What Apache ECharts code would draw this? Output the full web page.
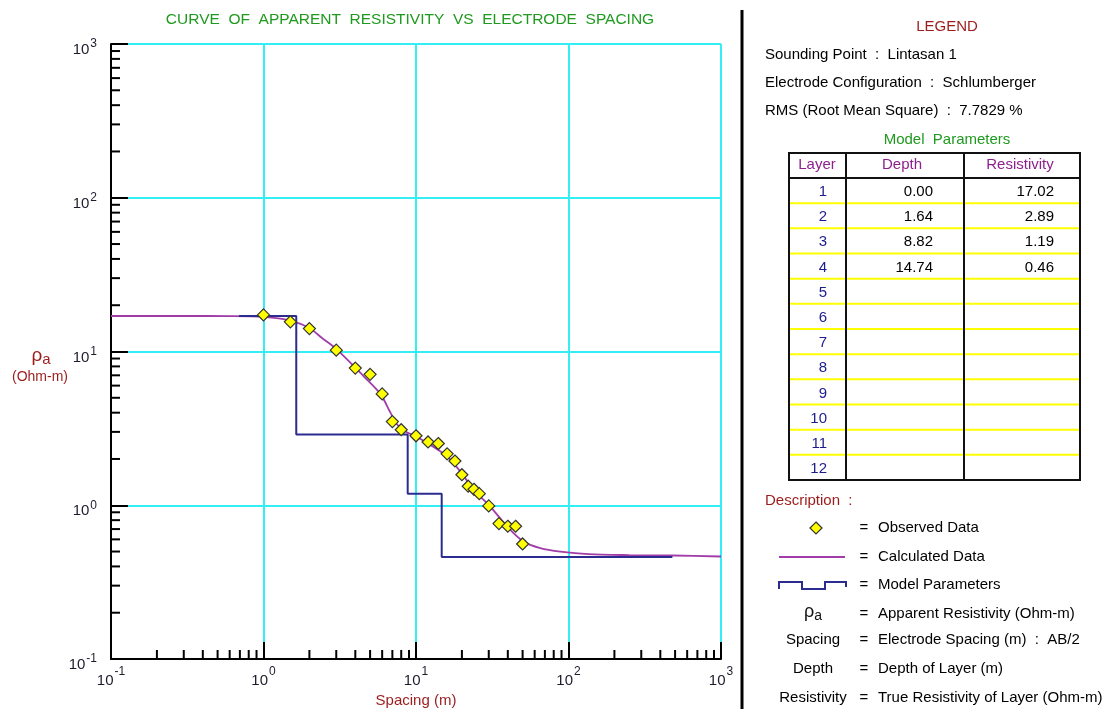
<!DOCTYPE html>
<html>
<head>
<meta charset="utf-8">
<script src="https://cdn.jsdelivr.net/npm/echarts@6/dist/echarts.min.js"></script>
<style>
  html, body { margin: 0; padding: 0; background: #ffffff; }
  #chart { width: 1108px; height: 709px; }
</style>
</head>
<body>
<div id="chart"></div>
<script>
// Observed sounding data: AB/2 spacing (m) and apparent resistivity (Ohm-m)
const obsSpacing = [1, 1.5, 2, 3, 4, 5, 6, 7, 8, 10, 12, 14, 16, 18, 20, 22, 24, 26, 30, 35, 40, 45, 50];
const obsRho = [17.3, 15.6, 14.1, 10.2, 7.8, 7.1, 5.3, 3.5, 3.1, 2.83, 2.58, 2.52, 2.16, 1.94, 1.58, 1.33, 1.27, 1.19, 0.99, 0.76, 0.73, 0.73, 0.56];

// Calculated (model response) curve
const calcSpacing = [0.1, 0.3, 0.6, 1, 1.5, 2, 2.43, 3, 4.54, 5.84, 6.8, 7.52, 8.52, 10, 12.4, 16, 19.5, 23.9, 30.7, 39.5, 50.8, 65.3, 88.4, 135, 250, 478, 1000];
const calcRho = [17.02, 17.02, 17.0, 16.8, 15.9, 14.2, 12.2, 10.4, 6.9, 5.3, 4.0, 3.35, 3.02, 2.80, 2.47, 2.08, 1.66, 1.26, 0.98, 0.73, 0.58, 0.527, 0.50, 0.481, 0.474, 0.471, 0.464];

// Layered model parameters
const layerNumbers = [1, 2, 3, 4, 5, 6, 7, 8, 9, 10, 11, 12];
const layerDepth = [0.00, 1.64, 8.82, 14.74];
const layerRes = [17.02, 2.89, 1.19, 0.46];
const modelSpan = [0.69, 480];

// Sounding info
const soundingPoint = 'Lintasan 1';
const configuration = 'Schlumberger';
const rmsError = '7.7829';

// Axis range (log10 decades)
const xRange = [0.1, 1000];
const yRange = [0.1, 1000];
const minorMultipliers = [2, 3, 4, 5, 6, 7, 8, 9];

const FONT = "'Liberation Sans', Arial, sans-serif";
const DARKRED = '#9c1c1c';
const GREEN = '#1f9a1f';
const HEADER = '#8e1f8e';
const NAVY = '#1c1c8c';
const CYAN = '#33eef5';
const CALC = '#a23ca8';
const MODEL = '#2c2c90';

// Step polyline of the model
const modelLine = [];
for (let i = 0; i < layerRes.length; i++) {
  const from = i === 0 ? modelSpan[0] : layerDepth[i];
  const to = i === layerRes.length - 1 ? modelSpan[1] : layerDepth[i + 1];
  modelLine.push([from, layerRes[i]], [to, layerRes[i]]);
}

// Minor log ticks for both axes: [x, y, axisFlag]
const minorTicks = [];
for (let e = Math.log10(xRange[0]); e < Math.log10(xRange[1]); e++) {
  minorMultipliers.forEach(m => minorTicks.push([m * Math.pow(10, e), yRange[0], 0]));
}
for (let e = Math.log10(yRange[0]); e < Math.log10(yRange[1]); e++) {
  minorMultipliers.forEach(m => minorTicks.push([xRange[0], m * Math.pow(10, e), 1]));
}

const powLabel = v => '{b|10}{s|' + Math.round(Math.log10(v)) + '}';

// Legend panel graphics
const graphics = [];
const txt = (text, x, y, opts) => graphics.push({
  type: 'text', silent: true,
  style: Object.assign({ text, x, y, fill: '#000', font: '15px ' + FONT, textAlign: 'left', textVerticalAlign: 'middle' }, opts || {})
});
const line = (x1, y1, x2, y2, stroke, lineWidth) => graphics.push({
  type: 'line', silent: true, shape: { x1, y1, x2, y2 }, style: { stroke, lineWidth }
});

// title
txt('CURVE  OF  APPARENT  RESISTIVITY  VS  ELECTRODE  SPACING', 410, 20, { fill: GREEN, textAlign: 'center', font: '15.5px ' + FONT });
// y axis name
graphics.push({
  type: 'text', silent: true,
  style: {
    text: '{r|ρ}{a|a}', x: 41, y: 356, textAlign: 'center', textVerticalAlign: 'middle',
    rich: { r: { fontSize: 19, fontFamily: FONT, fill: DARKRED }, a: { fontSize: 15, fontFamily: FONT, fill: DARKRED, padding: [8, 0, 0, 0] } }
  }
});
txt('(Ohm-m)', 40, 377, { fill: DARKRED, textAlign: 'center', font: '14px ' + FONT });

// divider
line(742, 10, 742, 709, '#000', 3);

// legend header block
txt('LEGEND', 947, 27, { fill: DARKRED, textAlign: 'center' });
txt('Sounding Point  :  ' + soundingPoint, 765, 55);
txt('Electrode Configuration  :  ' + configuration, 765, 83);
txt('RMS (Root Mean Square)  :  ' + rmsError + ' %', 765, 111);
txt('Model  Parameters', 947, 140, { fill: GREEN, textAlign: 'center' });

// model parameter table
const tX = [789, 846, 964, 1080];
const tTop = 153, tHead = 178;
const rowH = 25.17;
const tBottom = tHead + rowH * layerNumbers.length;
for (let i = 1; i < layerNumbers.length; i++) {
  line(tX[0], tHead + rowH * i, tX[3], tHead + rowH * i, '#ffff00', 2);
}
graphics.push({ type: 'rect', silent: true, shape: { x: tX[0], y: tTop, width: tX[3] - tX[0], height: tBottom - tTop }, style: { fill: null, stroke: '#111', lineWidth: 2 } });
line(tX[0], tHead, tX[3], tHead, '#111', 2);
line(tX[1], tTop, tX[1], tBottom, '#111', 2);
line(tX[2], tTop, tX[2], tBottom, '#111', 2);
txt('Layer', 817, 165, { fill: HEADER, textAlign: 'center' });
txt('Depth', 902, 165, { fill: HEADER, textAlign: 'center' });
txt('Resistivity', 1020, 165, { fill: HEADER, textAlign: 'center' });
layerNumbers.forEach((n, i) => {
  const cy = tHead + rowH * i + 14;
  txt(String(n), 827, cy, { fill: NAVY, textAlign: 'right' });
  if (i < layerDepth.length) {
    txt(layerDepth[i].toFixed(2), 933, cy, { textAlign: 'right' });
    txt(layerRes[i].toFixed(2), 1054, cy, { textAlign: 'right' });
  }
});

// description block
txt('Description  :', 765, 501, { fill: DARKRED });
graphics.push({
  type: 'polygon', silent: true,
  shape: { points: [[816, 522], [822, 528], [816, 534], [810, 528]] },
  style: { fill: '#ffff00', stroke: '#333', lineWidth: 1.2 }
});
line(779, 557, 845, 557, CALC, 2);
graphics.push({
  type: 'polyline', silent: true,
  shape: { points: [[779, 589], [779, 582], [802, 582], [802, 589], [825, 589], [825, 582], [846, 582], [846, 587]] },
  style: { stroke: MODEL, lineWidth: 2, fill: null }
});
graphics.push({
  type: 'text', silent: true,
  style: {
    text: '{r|ρ}{a|a}', x: 813, y: 612, textAlign: 'center', textVerticalAlign: 'middle',
    rich: { r: { fontSize: 18, fontFamily: FONT, fill: '#111' }, a: { fontSize: 14, fontFamily: FONT, fill: '#111', padding: [8, 0, 0, 0] } }
  }
});
txt('Spacing', 813, 640, { textAlign: 'center' });
txt('Depth', 813, 669, { textAlign: 'center' });
txt('Resistivity', 813, 698, { textAlign: 'center' });
const descRows = [
  [528, 'Observed Data'],
  [557, 'Calculated Data'],
  [585, 'Model Parameters'],
  [614, 'Apparent Resistivity (Ohm-m)'],
  [640, 'Electrode Spacing (m)  :  AB/2'],
  [669, 'Depth of Layer (m)'],
  [698, 'True Resistivity of Layer (Ohm-m)']
];
descRows.forEach(([y, t]) => {
  txt('=', 864, y, { textAlign: 'center' });
  txt(t, 878, y);
});

const axisLabelCommon = {
  formatter: powLabel,
  fontFamily: FONT,
  color: '#1c1c2c'
};

const option = {
  animation: false,
  backgroundColor: '#ffffff',
  grid: { left: 111, top: 44, width: 610, height: 615, containLabel: false, outerBoundsMode: 'none' },
  xAxis: {
    type: 'log', logBase: 10, min: xRange[0], max: xRange[1],
    name: 'Spacing (m)', nameLocation: 'middle', nameGap: 33,
    nameTextStyle: { color: DARKRED, fontSize: 15, fontFamily: FONT },
    axisLine: { lineStyle: { color: '#000', width: 2 } },
    axisTick: { inside: true, length: 17, lineStyle: { color: '#000', width: 2 } },
    splitLine: { show: true, lineStyle: { color: CYAN, width: 2 } },
    axisLabel: Object.assign({}, axisLabelCommon, {
      margin: 4,
      rich: {
        b: { fontSize: 15, fontFamily: FONT, color: '#1c1c2c', padding: [10, 0, 0, 0] },
        s: { fontSize: 12, fontFamily: FONT, color: '#1c1c2c', padding: [0, 0, 8, 1] }
      }
    })
  },
  yAxis: {
    type: 'log', logBase: 10, min: yRange[0], max: yRange[1],
    axisLine: { lineStyle: { color: '#000', width: 2 } },
    axisTick: { inside: true, length: 17, lineStyle: { color: '#000', width: 2 } },
    splitLine: { show: true, lineStyle: { color: CYAN, width: 2 } },
    axisLabel: Object.assign({}, axisLabelCommon, {
      margin: 14,
      rich: {
        b: { fontSize: 15, fontFamily: FONT, color: '#1c1c2c', padding: [12, 0, 0, 0] },
        s: { fontSize: 12, fontFamily: FONT, color: '#1c1c2c', padding: [0, 0, 0, 1] }
      }
    })
  },
  series: [
    {
      type: 'custom', name: 'minor ticks', silent: true, clip: false, z: 1,
      data: minorTicks,
      renderItem: function (params, api) {
        const p = api.coord([api.value(0), api.value(1)]);
        const horizontalAxis = api.value(2) === 0;
        return {
          type: 'line',
          shape: horizontalAxis
            ? { x1: p[0], y1: p[1], x2: p[0], y2: p[1] - 9 }
            : { x1: p[0], y1: p[1], x2: p[0] + 9, y2: p[1] },
          style: { stroke: '#000', lineWidth: 2 }
        };
      }
    },
    {
      type: 'line', name: 'Calculated Data', z: 3,
      data: calcSpacing.map((x, i) => [x, calcRho[i]]),
      smooth: 0.3, symbol: 'none',
      lineStyle: { color: CALC, width: 1.8 }
    },
    {
      type: 'line', name: 'Model Parameters', z: 4,
      data: modelLine, symbol: 'none',
      lineStyle: { color: MODEL, width: 2 }
    },
    {
      type: 'scatter', name: 'Observed Data', z: 5,
      data: obsSpacing.map((x, i) => [x, obsRho[i]]),
      symbol: 'diamond', symbolSize: 12,
      itemStyle: { color: '#ffff00', borderColor: '#333', borderWidth: 1.2, opacity: 1 }
    }
  ],
  graphic: graphics
};

const chart = echarts.init(document.getElementById('chart'), null, { renderer: 'canvas' });
chart.setOption(option);
</script>
</body>
</html>
